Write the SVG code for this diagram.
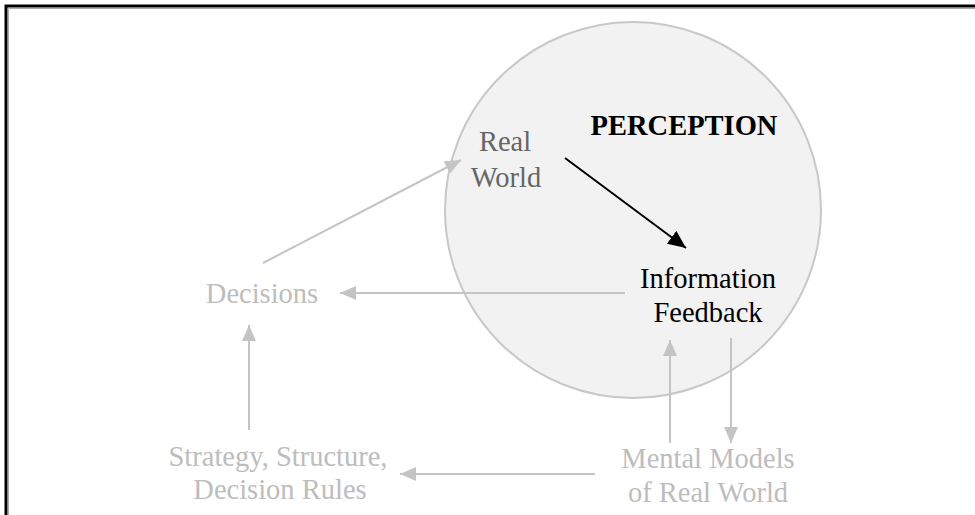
<svg xmlns="http://www.w3.org/2000/svg" width="975" height="515" viewBox="0 0 975 515">
<defs>
<style>
text{font-family:"Liberation Serif","Times New Roman",serif;font-size:28.5px;text-anchor:middle}
.g{fill:#bdbdbd}
.d{fill:#666}
.k{fill:#000}
.ln{stroke:#c4c4c4;stroke-width:2;fill:none}
</style>
<marker id="ag" viewBox="0 0 16 14" refX="16" refY="7" markerWidth="16" markerHeight="14" markerUnits="userSpaceOnUse" orient="auto">
<path d="M0,0 L16,7 L0,14 Z" fill="#c4c4c4"/>
</marker>
<marker id="ak" viewBox="0 0 18 16" refX="18" refY="8" markerWidth="18" markerHeight="16" markerUnits="userSpaceOnUse" orient="auto">
<path d="M0,0 L18,8 L0,16 Z" fill="#000"/>
</marker>
</defs>
<rect width="975" height="515" fill="#fff"/>
<path d="M6,515 V6 H975" fill="none" stroke="#000" stroke-width="3"/>
<path d="M8.5,515 V8.5 H975" fill="none" stroke="#aaa" stroke-width="1"/>
<g id="perception">
<circle cx="633" cy="210" r="188" fill="#f2f2f2" stroke="#c8c8c8" stroke-width="2"/>
<text x="684" y="135" class="k" font-weight="bold">PERCEPTION</text>
</g>
<g id="connectors">
<line x1="565" y1="158" x2="686" y2="248" stroke="#000" stroke-width="2" marker-end="url(#ak)"/>
<line x1="263" y1="263" x2="461" y2="160" class="ln" marker-end="url(#ag)"/>
<line x1="625" y1="293" x2="340" y2="293" class="ln" marker-end="url(#ag)"/>
<line x1="249" y1="430" x2="249" y2="325" class="ln" marker-end="url(#ag)"/>
<line x1="595" y1="474" x2="400" y2="474" class="ln" marker-end="url(#ag)"/>
<line x1="670" y1="443" x2="670" y2="340" class="ln" marker-end="url(#ag)"/>
<line x1="731" y1="338" x2="731" y2="443" class="ln" marker-end="url(#ag)"/>
</g>
<g id="real-world">
<text x="505" y="151" class="d">Real</text>
<text x="506" y="187" class="d">World</text>
</g>
<g id="information-feedback">
<text x="708" y="288" class="k">Information</text>
<text x="708" y="322" class="k">Feedback</text>
</g>
<g id="decisions">
<text x="262" y="303" class="g">Decisions</text>
</g>
<g id="strategy">
<text x="278" y="466" class="g">Strategy, Structure,</text>
<text x="280" y="499" class="g">Decision Rules</text>
</g>
<g id="mental-models">
<text x="708" y="468" class="g">Mental Models</text>
<text x="708" y="502" class="g">of Real World</text>
</g>
</svg>
